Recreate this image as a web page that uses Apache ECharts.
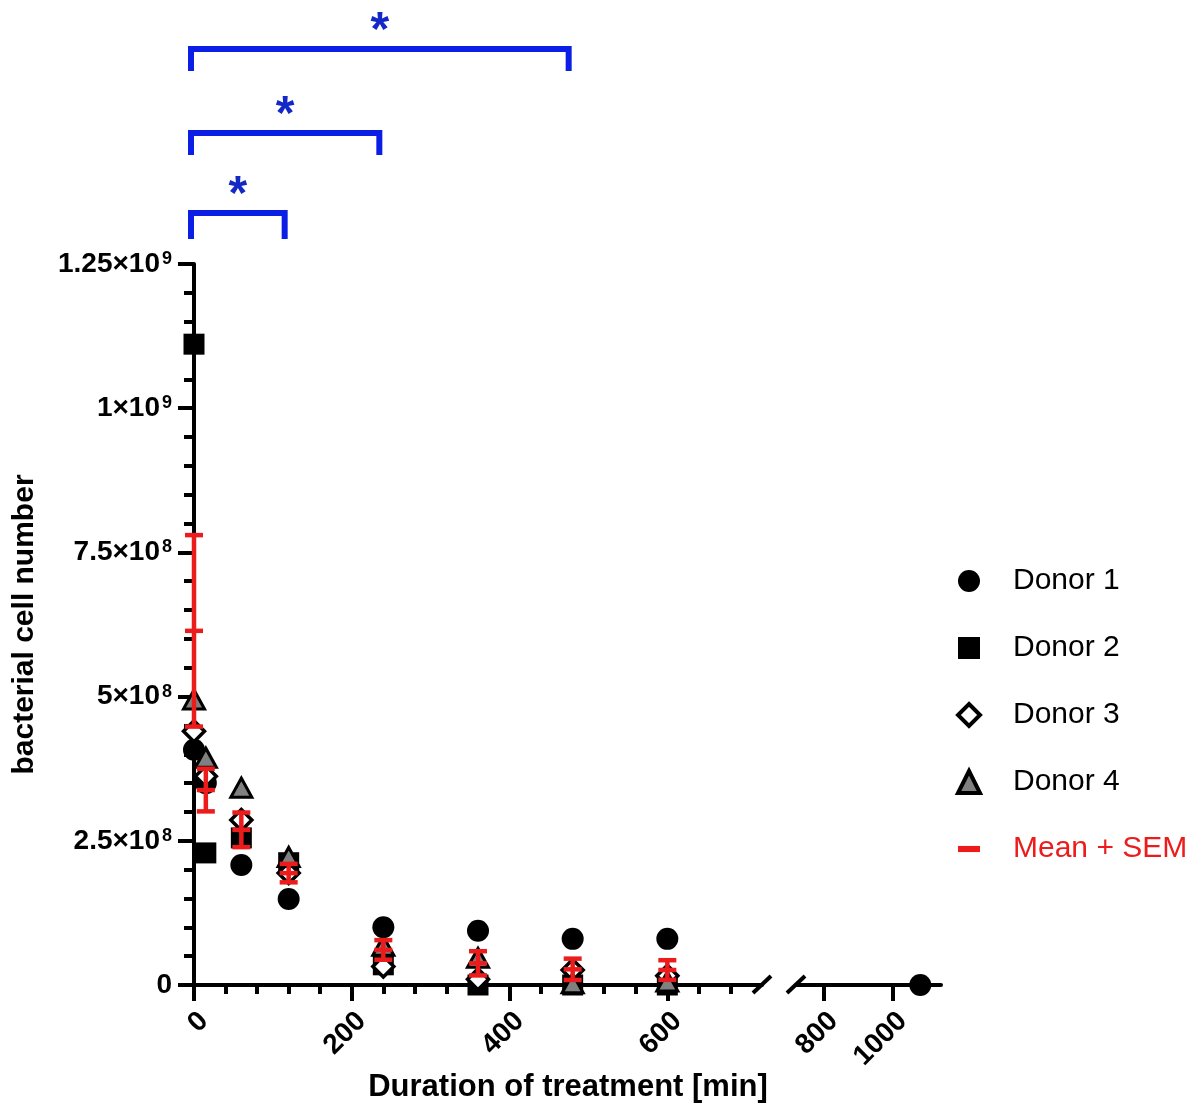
<!DOCTYPE html>
<html><head><meta charset="utf-8">
<script src="https://cdn.jsdelivr.net/npm/echarts@6/dist/echarts.min.js"></script>
<style>html,body{margin:0;padding:0;background:#fff}#c{width:1203px;height:1104px}</style>
</head><body><div id="c"></div>
<script>
// ---- data ----
const times = [0, 15, 60, 120, 240, 360, 480, 600];
const donor1 = [4.08e8, 3.50e8, 2.08e8, 1.49e8, 1.00e8, 9.4e7, 8.0e7, 8.0e7];
const donor1LateTime = [1080];
const donor1LateVal = [0];
const donor2 = [1.111e9, 2.29e8, 2.55e8, 2.12e8, 3.5e7, 0, 0, 0];
const donor3 = [4.40e8, 3.62e8, 2.86e8, 1.94e8, 3.2e7, 1.0e7, 2.6e7, 1.6e7];
const donor4 = [4.95e8, 3.94e8, 3.42e8, 2.22e8, 6.8e7, 4.7e7, 3.0e6, 6.0e6];
const meanVals = [6.14e8, 3.38e8, 2.69e8, 1.94e8, 6.08e7, 3.76e7, 2.72e7, 2.60e7];
const semVals = [1.66e8, 3.7e7, 3.0e7, 1.6e7, 1.7e7, 2.1e7, 1.85e7, 1.7e7];
const xMajorLeft = [0, 200, 400, 600];
const xMinorLeft = [40, 80, 120, 160, 240, 280, 320, 360, 440, 480, 520, 560, 640, 680];
const xMajorRight = [800, 1000];
const yTicks = [0, 2.5e8, 5e8, 7.5e8, 1e9, 1.25e9];
const comparisons = [[0, 120], [0, 240], [0, 480]];
const compLabels = ['*', '*', '*'];

// ---- styles / layout ----
const FONT = 'Liberation Sans';
const RED = '#ec1c1c';
const BLUE = '#0a1ee6';
const GRID_TOP = 264, GRID_H = 721;
const bracketTop = [213, 133, 49];
const bracketLeg = [26, 22, 22];

const pair = (xs, ys) => xs.map((x, i) => [x, ys[i]]);

function yLabel(v) {
  if (v === 0) return '{b|0}';
  const e = Math.floor(Math.log10(v) + 1e-9);
  const m = +(v / Math.pow(10, e)).toFixed(2);
  return '{b|' + m + '×10}{s|' + e + '}';
}
const xLabel = (v) => String(v);

const chart = echarts.init(document.getElementById('c'), null, {renderer: 'canvas'});

const axisLineStyle = {color: '#000', width: 4};
const xLabelStyle = {fontFamily: FONT, fontWeight: 'bold', fontSize: 28, color: '#000',
  rotate: 45, margin: 22, verticalAlign: 'top', formatter: xLabel};
const option = {
  animation: false,
  backgroundColor: '#fff',
  title: {
    text: 'Duration of treatment [min]',
    left: 563, top: 1067, textAlign: 'center',
    textStyle: {fontFamily: FONT, fontWeight: 'bold', fontSize: 31, color: '#000'}
  },
  legend: {
    orient: 'vertical', left: 951, top: 561,
    itemWidth: 22, itemHeight: 22, itemGap: 37,
    textStyle: {fontFamily: FONT, fontSize: 30, color: '#000', lineHeight: 30, padding: [0, 0, 0, 28]},
    data: [
      {name: 'Donor 1'},
      {name: 'Donor 2'},
      {name: 'Donor 3', itemStyle: {borderWidth: 4, borderColor: '#000', color: '#fff'}},
      {name: 'Donor 4', itemStyle: {borderWidth: 4, borderColor: '#000', color: '#808080'}},
      {name: 'Mean + SEM', icon: 'path://M0,0H18V5H0Z', textStyle: {color: RED}}
    ]
  },
  grid: [
    {left: 194, top: GRID_TOP, width: 568, height: GRID_H},
    {left: 796, top: GRID_TOP, width: 145, height: GRID_H}
  ],
  xAxis: [
    { // left segment, minor ticks + line
      type: 'value', gridIndex: 0, min: 0, max: 720, position: 'bottom',
      axisLine: {show: true, lineStyle: axisLineStyle},
      axisTick: {show: true, length: 9, lineStyle: {width: 4, color: '#000'}, customValues: xMinorLeft},
      axisLabel: {show: false},
      splitLine: {show: false}
    },
    { // left segment, major ticks + labels
      type: 'value', gridIndex: 0, min: 0, max: 720, position: 'bottom',
      axisLine: {show: false},
      axisTick: {show: true, length: 16, lineStyle: {width: 4, color: '#000'}, customValues: xMajorLeft},
      axisLabel: Object.assign({show: true, customValues: xMajorLeft}, xLabelStyle),
      splitLine: {show: false}
    },
    { // right segment
      type: 'value', gridIndex: 1, min: 720, max: 1140, position: 'bottom',
      axisLine: {show: true, lineStyle: axisLineStyle},
      axisTick: {show: true, length: 16, lineStyle: {width: 4, color: '#000'}, customValues: xMajorRight},
      axisLabel: Object.assign({show: true, customValues: xMajorRight}, xLabelStyle),
      splitLine: {show: false}
    }
  ],
  yAxis: [
    {
      type: 'value', gridIndex: 0, min: 0, max: 1.25e9, interval: 2.5e8,
      name: 'bacterial cell number', nameLocation: 'middle', nameGap: 154,
      nameTextStyle: {fontFamily: FONT, fontWeight: 'bold', fontSize: 30, color: '#000'},
      axisLine: {show: true, lineStyle: axisLineStyle},
      axisTick: {show: true, length: 16, lineStyle: {width: 4, color: '#000'}},
      minorTick: {show: true, splitNumber: 5, length: 10, lineStyle: {width: 4, color: '#000'}},
      axisLabel: {
        margin: 22, formatter: yLabel,
        rich: {
          b: {fontFamily: FONT, fontWeight: 'bold', fontSize: 28, color: '#000'},
          s: {fontFamily: FONT, fontWeight: 'bold', fontSize: 18, color: '#000', verticalAlign: 'top', padding: [0, 0, 0, 2]}
        }
      },
      splitLine: {show: false}
    },
    {
      type: 'value', gridIndex: 1, min: 0, max: 1.25e9, interval: 2.5e8, show: false,
      splitLine: {show: false}
    }
  ],
  series: [
    {
      name: 'Donor 1', type: 'scatter', xAxisIndex: 0, yAxisIndex: 0, clip: false, z: 2,
      symbol: 'circle', symbolSize: 22, itemStyle: {color: '#000', opacity: 1},
      data: pair(times, donor1)
    },
    {
      name: 'Donor 1', type: 'scatter', xAxisIndex: 2, yAxisIndex: 1, clip: false, z: 2,
      symbol: 'circle', symbolSize: 22, itemStyle: {color: '#000', opacity: 1},
      data: pair(donor1LateTime, donor1LateVal)
    },
    {
      name: 'Donor 2', type: 'scatter', xAxisIndex: 0, yAxisIndex: 0, clip: false, z: 2,
      symbol: 'rect', symbolSize: 21, itemStyle: {color: '#000', opacity: 1},
      data: pair(times, donor2)
    },
    {
      name: 'Donor 3', type: 'scatter', xAxisIndex: 0, yAxisIndex: 0, clip: false, z: 2,
      symbol: 'diamond', symbolSize: 21,
      itemStyle: {color: '#fff', borderColor: '#000', borderWidth: 3.5, opacity: 1},
      data: pair(times, donor3)
    },
    {
      name: 'Donor 4', type: 'scatter', xAxisIndex: 0, yAxisIndex: 0, clip: false, z: 2,
      symbol: 'triangle', symbolSize: [21, 19],
      itemStyle: {color: '#808080', borderColor: '#000', borderWidth: 3, opacity: 1},
      data: pair(times, donor4)
    },
    {
      name: 'Mean + SEM', type: 'custom', xAxisIndex: 0, yAxisIndex: 0, clip: false, z: 5,
      itemStyle: {color: RED},
      encode: {x: 0, y: 1},
      data: times.map((t, i) => [t, meanVals[i], semVals[i]]),
      renderItem: function (params, api) {
        const x = api.value(0), m = api.value(1), s = api.value(2);
        const pt = api.coord([x, m + s]);
        const pb = api.coord([x, m - s]);
        const pm = api.coord([x, m]);
        const h = 9;
        const st = {stroke: RED, lineWidth: 4.5, fill: null};
        return {
          type: 'group',
          children: [
            {type: 'line', shape: {x1: pt[0], y1: pt[1], x2: pb[0], y2: pb[1]}, style: st},
            {type: 'line', shape: {x1: pt[0] - h, y1: pt[1], x2: pt[0] + h, y2: pt[1]}, style: st},
            {type: 'line', shape: {x1: pb[0] - h, y1: pb[1], x2: pb[0] + h, y2: pb[1]}, style: st},
            {type: 'line', shape: {x1: pm[0] - h, y1: pm[1], x2: pm[0] + h, y2: pm[1]}, style: st}
          ]
        };
      }
    },
    {
      name: 'brackets', type: 'custom', xAxisIndex: 0, yAxisIndex: 0, clip: false, z: 5,
      encode: {x: [0, 1]},
      data: comparisons.map((c, i) => [c[0], c[1], i]),
      renderItem: function (params, api) {
        const i = api.value(2);
        const x1 = api.coord([api.value(0), 0])[0] - 3;
        const x2 = api.coord([api.value(1), 0])[0] - 4;
        const top = bracketTop[i];
        const bot = top + bracketLeg[i];
        return {
          type: 'group',
          children: [
            {type: 'polyline', shape: {points: [[x1, bot], [x1, top], [x2, top], [x2, bot]]},
              style: {stroke: BLUE, lineWidth: 6, fill: null, lineJoin: 'miter', lineCap: 'butt'}},
            {type: 'text', x: (x1 + x2) / 2, y: top - 17,
              style: {text: compLabels[i], fill: '#1428c8', font: 'bold 48px "Liberation Sans"',
                align: 'center', verticalAlign: 'middle'}}
          ]
        };
      }
    }
  ]
};
chart.setOption(option);

// axis break marks, placed at the ends of the two x-axis segments
const xEndL = chart.convertToPixel({xAxisIndex: 0}, 720);
const xStartR = chart.convertToPixel({xAxisIndex: 2}, 720);
const yAx = chart.convertToPixel({yAxisIndex: 0}, 0);
const slash = (cx) => ({
  type: 'line', z: 10,
  shape: {x1: cx - 9, y1: yAx + 8, x2: cx + 9, y2: yAx - 9},
  style: {stroke: '#000', lineWidth: 4}
});
chart.setOption({graphic: [slash(xEndL), slash(xStartR)]});
</script>
</body></html>
